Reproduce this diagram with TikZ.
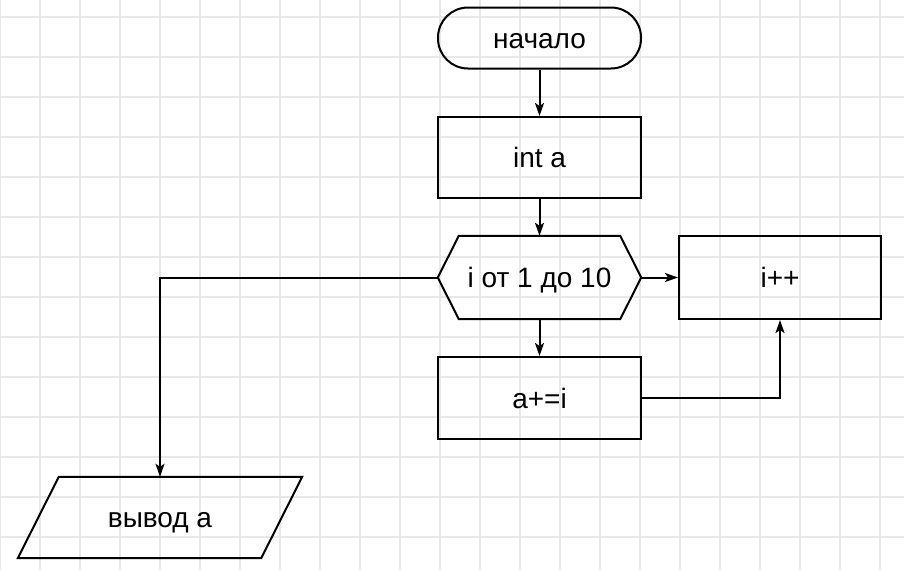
\documentclass[tikz,border=0pt]{standalone}
\usepackage{fontspec}
\setmainfont{Liberation Sans}
\usetikzlibrary{arrows.meta}
\definecolor{gridgray}{HTML}{E8E8E8}
\tikzset{
  labeltext/.style={font=\fontsize{28}{32}\selectfont, text height=20pt, text depth=0pt},
  box/.style={draw, line width=2pt, minimum width=203pt, minimum height=81pt, inner sep=0pt, labeltext},
  ghost/.style={draw=none, minimum width=203pt, minimum height=83pt, inner sep=0pt, labeltext},
  outline/.style={line width=2pt, line join=miter},
  conn/.style={line width=2pt, -{Stealth[length=13pt,width=9pt,inset=3pt]}},
  gridline/.style={gridgray, line width=1.5pt}
}
\begin{document}
\begin{tikzpicture}[x=1pt,y=-1pt]
\useasboundingbox (0,0) rectangle (904,570);
\fill[white] (0,0) rectangle (904,570);
% grid
\foreach \gx in {0,40,...,880} {\draw[gridline] (\gx,0) -- (\gx,570);}
\foreach \gy in {17,57,...,537} {\draw[gridline] (0,\gy) -- (904,\gy);}
% nodes
\node[box, minimum height=61pt, rounded corners=30pt] (start) at (539.5,38) {начало};
\node[box] (inta) at (539.5,157.5) {int a};
\node[ghost] (loop) at (539.5,277.5) {i от 1 до 10};
\draw[outline] (loop.west) -- ([xshift=21pt]loop.north west) -- ([xshift=-21pt]loop.north east) -- (loop.east) -- ([xshift=-21pt]loop.south east) -- ([xshift=21pt]loop.south west) -- cycle;
\node[box, minimum width=202pt, minimum height=83pt] (inc) at (780,277.5) {i++};
\node[box, minimum height=82pt] (add) at (539.5,398) {a+=i};
\node[ghost, minimum width=284pt, minimum height=81pt] (out) at (160,517.5) {вывод а};
\draw[outline] ([xshift=41pt]out.north west) -- (out.north east) -- ([xshift=-41pt]out.south east) -- (out.south west) -- cycle;
% connectors
\draw[conn] (start) -- (inta);
\draw[conn] (inta) -- (loop.north);
\draw[conn] (loop.east) -- (inc);
\draw[conn] (loop.south) -- (add);
\draw[conn] (add.east) -| (inc.south);
\draw[conn] (loop.west) -| (out.north);
\end{tikzpicture}
\end{document}
